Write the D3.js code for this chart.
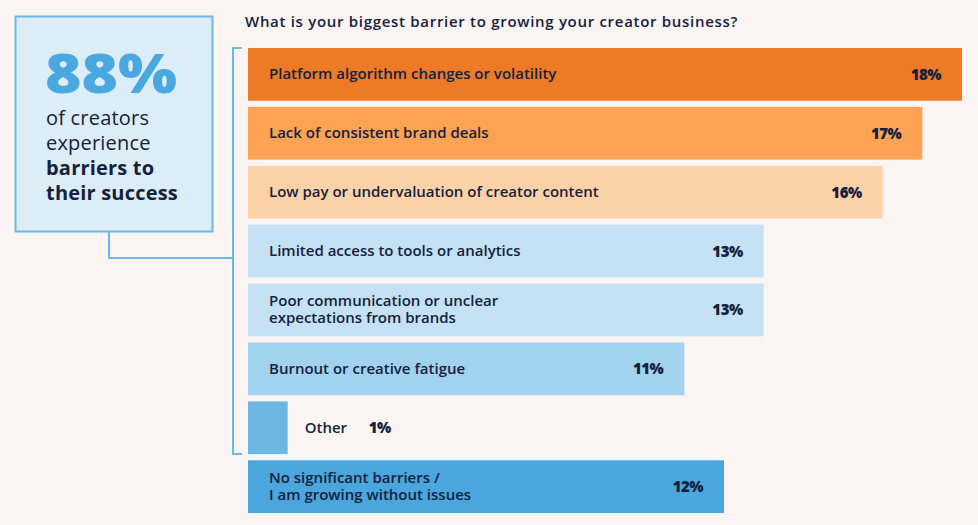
<!DOCTYPE html>
<html>
<head>
<meta charset="utf-8">
<script src="https://cdn.jsdelivr.net/npm/d3@7"></script>
<style>
  body { margin: 0; background: #faf5f2; }
  svg { display: block; font-family: "Open Sans", "Noto Sans", sans-serif; }
</style>
</head>
<body>
<svg width="978" height="525"></svg>
<script>
var categories = [
    ["Platform algorithm changes or volatility"],
    ["Lack of consistent brand deals"],
    ["Low pay or undervaluation of creator content"],
    ["Limited access to tools or analytics"],
    ["Poor communication or unclear", "expectations from brands"],
    ["Burnout or creative fatigue"],
    ["Other"],
    ["No significant barriers /", "I am growing without issues"]
];
var values = [18, 17, 16, 13, 13, 11, 1, 12];
var colors = ["#ec7a26", "#fea254", "#fed2a9", "#c5e2f4", "#c5e2f4", "#a1d2ee", "#6cb8e3", "#4aa6dc"];

var svg = d3.select("svg"),
    width = +svg.attr("width"),
    height = +svg.attr("height");

var x = d3.scaleLinear()
    .domain([0, 18])
    .range([248, 962]);

var y = d3.scaleBand()
    .domain(d3.range(values.length))
    .range([48, 513])
    .paddingInner(0.105);

var ink = "#14213d";

// title
svg.append("text")
    .attr("x", 245)
    .attr("y", 27)
    .attr("font-size", "15px")
    .attr("font-weight", 600)
    .attr("letter-spacing", "0.7px")
    .attr("fill", ink)
    .text("What is your biggest barrier to growing your creator business?");

// call-out box
svg.append("rect")
    .attr("x", 15.5)
    .attr("y", 16.5)
    .attr("width", 197)
    .attr("height", 215)
    .attr("fill", "#dcedf8")
    .attr("stroke", "#6db8e6")
    .attr("stroke-width", 2);

svg.append("text")
    .attr("x", 45)
    .attr("y", 93)
    .attr("font-size", "54px")
    .attr("font-weight", 800)
    .attr("fill", "#4aa8e0")
    .attr("textLength", 132)
    .attr("lengthAdjust", "spacingAndGlyphs")
    .text("88%");

var boxLines = [["of creators", 500], ["experience", 500], ["barriers to", 700], ["their success", 700]];
svg.append("g")
    .selectAll("text")
    .data(boxLines)
    .enter().append("text")
    .attr("x", 46)
    .attr("y", function (d, i) { return 125 + i * 25; })
    .attr("font-size", "20px")
    .attr("font-weight", function (d) { return d[1]; })
    .attr("letter-spacing", "0.2px")
    .attr("fill", ink)
    .text(function (d) { return d[0]; });

// connector and bracket
var barrierTop = y(0), barrierBottom = y(6) + y.bandwidth();
svg.append("path")
    .attr("d", "M109,232 V258 H233")
    .attr("fill", "none")
    .attr("stroke", "#6db8e6")
    .attr("stroke-width", 2);
svg.append("path")
    .attr("d", "M242," + barrierTop + " H233 V" + barrierBottom + " H242")
    .attr("fill", "none")
    .attr("stroke", "#6db8e6")
    .attr("stroke-width", 2);

// bars
var bar = svg.append("g")
    .selectAll("g")
    .data(values)
    .enter().append("g");

bar.append("rect")
    .attr("x", x(0))
    .attr("y", function (d, i) { return y(i); })
    .attr("width", function (d) { return x(d) - x(0); })
    .attr("height", y.bandwidth())
    .attr("fill", function (d, i) { return colors[i]; });

// category labels
bar.append("text")
    .attr("x", function (d) { return d < 3 ? x(d) + 17 : 269; })
    .attr("y", function (d, i) {
        var n = categories[i].length;
        return y(i) + y.bandwidth() / 2 - (n - 1) * 8.5 + 5;
    })
    .attr("font-size", "15px")
    .attr("font-weight", 600)
    .attr("fill", ink)
    .selectAll("tspan")
    .data(function (d, i) { return categories[i]; })
    .enter().append("tspan")
    .attr("x", function () { return d3.select(this.parentNode).attr("x"); })
    .attr("dy", function (d, j) { return j ? 17 : 0; })
    .text(function (d) { return d; });

// value labels
bar.append("text")
    .attr("x", function (d) { return d < 3 ? x(d) + 103 : x(d) - 21; })
    .attr("y", function (d, i) { return y(i) + y.bandwidth() / 2 + 5.5; })
    .attr("text-anchor", "end")
    .attr("font-size", "15px")
    .attr("font-weight", 800)
    .attr("letter-spacing", "-0.5px")
    .attr("fill", ink)
    .text(function (d) { return d + "%"; });
</script>
</body>
</html>
